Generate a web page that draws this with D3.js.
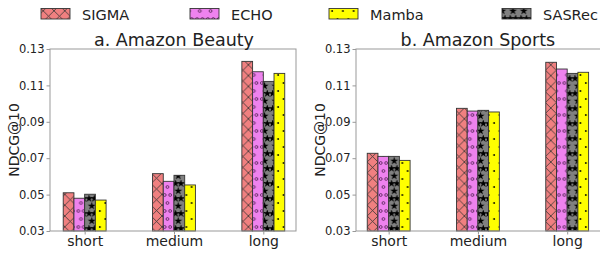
<!DOCTYPE html>
<html>
<head>
<meta charset="utf-8">
<script src="https://cdn.jsdelivr.net/npm/d3@7"></script>
<style>
  body { margin: 0; background: #fff; }
  text { font-family: "DejaVu Sans", sans-serif; fill: #222; }
</style>
</head>
<body>
<script>
// Chart data
var categories = ["short", "medium", "long"];
var models = ["SIGMA", "ECHO", "SASRec", "Mamba"];
var legendOrder = ["SIGMA", "ECHO", "Mamba", "SASRec"];
var yTicks = [0.03, 0.05, 0.07, 0.09, 0.11, 0.13];

var beautySIGMA = [0.0510, 0.0615, 0.1232];
var beautyECHO = [0.0480, 0.0573, 0.1175];
var beautySASRec = [0.0502, 0.0606, 0.1122];
var beautyMamba = [0.0470, 0.0553, 0.1166];

var sportsSIGMA = [0.0727, 0.0974, 0.1227];
var sportsECHO = [0.0710, 0.0959, 0.1190];
var sportsSASRec = [0.0710, 0.0963, 0.1166];
var sportsMamba = [0.0688, 0.0954, 0.1172];

var panels = [
  {title: "a. Amazon Beauty", left: 50, right: 296, dom: [-0.388, 2.366],
   series: [beautySIGMA, beautyECHO, beautySASRec, beautyMamba]},
  {title: "b. Amazon Sports", left: 356, right: 602, dom: [-0.366, 2.39],
   series: [sportsSIGMA, sportsECHO, sportsSASRec, sportsMamba]}
];

var colors = {SIGMA: "#f08080", ECHO: "#ee82ee", SASRec: "#808080", Mamba: "#ffff00"};
var barW = 0.12;

var width = 600, height = 254;
var plotTop = 49, plotBottom = 231;

var svg = d3.select("body").append("svg")
  .attr("width", width)
  .attr("height", height);

// hatch patterns
var defs = svg.append("defs");

var pX = defs.append("pattern").attr("id", "hatch-SIGMA")
  .attr("patternUnits", "userSpaceOnUse").attr("width", 10.8).attr("height", 10.8);
pX.append("rect").attr("width", 10.8).attr("height", 10.8).attr("fill", colors.SIGMA);
pX.append("path").attr("d", "M0,0L10.8,10.8M10.8,0L0,10.8")
  .attr("stroke", "#333").attr("stroke-width", 0.8);

var pO = defs.append("pattern").attr("id", "hatch-ECHO")
  .attr("patternUnits", "userSpaceOnUse").attr("width", 10.8).attr("height", 16);
pO.append("rect").attr("width", 10.8).attr("height", 16).attr("fill", colors.ECHO);
[[2.7, 3], [8.1, 3], [5.4, 11]].forEach(function(c) {
  pO.append("circle").attr("cx", c[0]).attr("cy", c[1]).attr("r", 1.4)
    .attr("fill", "none").attr("stroke", "#4a1a4a").attr("stroke-width", 0.8);
});

var star = d3.symbol().type(d3.symbolStar).size(20);
var pS = defs.append("pattern").attr("id", "hatch-SASRec")
  .attr("patternUnits", "userSpaceOnUse").attr("width", 10.8).attr("height", 15);
pS.append("rect").attr("width", 10.8).attr("height", 15).attr("fill", colors.SASRec);
[[2.7, 3.5], [8.1, 3.5], [5.4, 11]].forEach(function(c) {
  pS.append("path").attr("d", star()).attr("transform", "translate(" + c[0] + "," + c[1] + ")")
    .attr("fill", "#000");
});

var pD = defs.append("pattern").attr("id", "hatch-Mamba")
  .attr("patternUnits", "userSpaceOnUse").attr("width", 10.8).attr("height", 16);
pD.append("rect").attr("width", 10.8).attr("height", 16).attr("fill", colors.Mamba);
[[2.7, 3], [8.1, 11]].forEach(function(c) {
  pD.append("circle").attr("cx", c[0]).attr("cy", c[1]).attr("r", 0.9).attr("fill", "#000");
});

var y = d3.scaleLinear().domain([0.03, 0.13]).range([plotBottom, plotTop]);

panels.forEach(function(p) {
  var x = d3.scaleLinear().domain(p.dom).range([p.left, p.right]);
  var g = svg.append("g");

  // bars
  models.forEach(function(m, k) {
    g.selectAll("rect.b" + k)
      .data(p.series[k])
      .enter()
      .append("rect")
      .attr("x", (d, i) => x(i + (k - 2) * barW))
      .attr("y", (d) => y(d))
      .attr("width", x(barW) - x(0))
      .attr("height", (d) => plotBottom - y(d))
      .attr("fill", "url(#hatch-" + m + ")")
      .attr("stroke", "#333")
      .attr("stroke-width", 0.9);
  });

  // frame
  g.append("rect")
    .attr("x", p.left).attr("y", plotTop)
    .attr("width", p.right - p.left).attr("height", plotBottom - plotTop)
    .attr("fill", "none").attr("stroke", "#999").attr("stroke-width", 1);

  // y axis
  var ya = g.append("g").attr("transform", "translate(" + p.left + ",0)")
    .call(d3.axisLeft(y).tickValues(yTicks).tickFormat(d3.format(".2f")).tickSize(3.5).tickPadding(2));
  ya.select(".domain").remove();
  ya.selectAll("line").attr("stroke", "#999");
  ya.selectAll("text").style("font-size", "11.5px").attr("fill", "#222");

  // x axis
  var xa = g.append("g").attr("transform", "translate(0," + plotBottom + ")")
    .call(d3.axisBottom(x).tickValues([0, 1, 2]).tickFormat((d) => categories[d]).tickSize(3.5).tickPadding(2));
  xa.select(".domain").remove();
  xa.selectAll("line").attr("stroke", "#999");
  xa.selectAll("text").style("font-size", "14px").attr("fill", "#222");

  // title
  g.append("text")
    .attr("x", x(1))
    .attr("y", 46)
    .attr("text-anchor", "middle")
    .style("font-size", "17.5px")
    .text(p.title);

  // y label
  g.append("text")
    .attr("transform", "translate(" + (p.left - 31) + "," + ((plotTop + plotBottom) / 2) + ") rotate(-90)")
    .attr("text-anchor", "middle")
    .style("font-size", "14px")
    .text("NDCG@10");
});

// legend
var legX = [41, 190, 329, 502];
var leg = svg.append("g");
legendOrder.forEach(function(m, i) {
  leg.append("rect")
    .attr("x", legX[i]).attr("y", 8.5)
    .attr("width", 29).attr("height", 10.5)
    .attr("fill", "url(#hatch-" + m + ")")
    .attr("stroke", "#333").attr("stroke-width", 0.9);
  leg.append("text")
    .attr("x", legX[i] + 41).attr("y", 19.5)
    .style("font-size", "14.5px")
    .text(m);
});
</script>
</body>
</html>
